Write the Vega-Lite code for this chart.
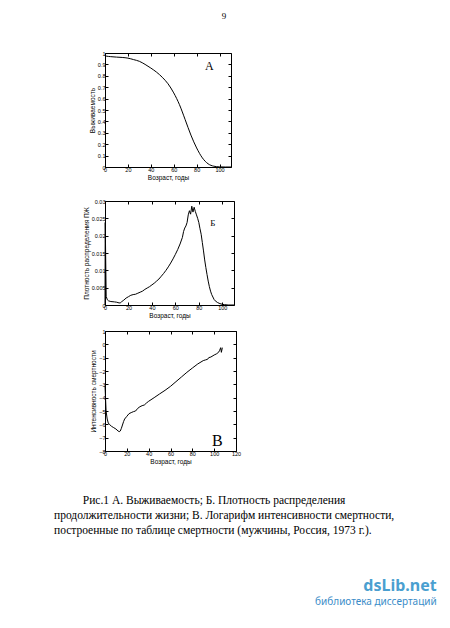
{
  "$schema": "https://vega.github.io/schema/vega-lite/v6.json",
  "background": "white",
  "padding": {"left": 53, "top": 11, "right": 5, "bottom": 5},
  "title": {"text": "dsLib.net", "subtitle": "библиотека диссертаций", "orient": "bottom", "anchor": "end", "color": "#4a9fd0", "subtitleColor": "#3a8cc8", "font": "Noto Sans", "fontSize": 16, "fontWeight": "bold", "subtitleFont": "Noto Sans", "subtitleFontSize": 10, "subtitlePadding": 3, "offset": 41, "dx": 42},
  "datasets": {
    "survival": [
      {"age": 0, "l": 0.982}, {"age": 1, "l": 0.973}, {"age": 5, "l": 0.968}, {"age": 10, "l": 0.964}, {"age": 15, "l": 0.961}, {"age": 20, "l": 0.955}, {"age": 25, "l": 0.942}, {"age": 30, "l": 0.927}, {"age": 35, "l": 0.9}, {"age": 40, "l": 0.868}, {"age": 45, "l": 0.832}, {"age": 50, "l": 0.787}, {"age": 55, "l": 0.73}, {"age": 60, "l": 0.65}, {"age": 65, "l": 0.547}, {"age": 70, "l": 0.415}, {"age": 75, "l": 0.28}, {"age": 80, "l": 0.167}, {"age": 85, "l": 0.08}, {"age": 90, "l": 0.028}, {"age": 95, "l": 0.007}, {"age": 100, "l": 0.001}, {"age": 105, "l": 0}, {"age": 110, "l": 0}
    ],
    "density": [
      {"age": 0, "f": 0}, {"age": 0.2, "f": 0.0238}, {"age": 1, "f": 0.0025}, {"age": 2, "f": 0.0015}, {"age": 3, "f": 0.0012}, {"age": 5, "f": 0.001}, {"age": 8, "f": 0.0009}, {"age": 10, "f": 0.0008}, {"age": 12, "f": 0.0006}, {"age": 13, "f": 0.0006}, {"age": 14, "f": 0.0009}, {"age": 16, "f": 0.0014}, {"age": 18, "f": 0.002}, {"age": 20, "f": 0.0024}, {"age": 22, "f": 0.0028}, {"age": 24, "f": 0.003}, {"age": 26, "f": 0.0031}, {"age": 28, "f": 0.0034}, {"age": 30, "f": 0.0037}, {"age": 32, "f": 0.004}, {"age": 34, "f": 0.0045}, {"age": 36, "f": 0.0049}, {"age": 38, "f": 0.0053}, {"age": 40, "f": 0.0058}, {"age": 42, "f": 0.0063}, {"age": 44, "f": 0.0069}, {"age": 46, "f": 0.0075}, {"age": 48, "f": 0.0083}, {"age": 50, "f": 0.0091}, {"age": 52, "f": 0.01}, {"age": 54, "f": 0.011}, {"age": 56, "f": 0.0121}, {"age": 58, "f": 0.0133}, {"age": 60, "f": 0.0146}, {"age": 62, "f": 0.016}, {"age": 64, "f": 0.0176}, {"age": 66, "f": 0.0195}, {"age": 67, "f": 0.0212}, {"age": 68, "f": 0.0222}, {"age": 69, "f": 0.0228}, {"age": 70, "f": 0.0238}, {"age": 71, "f": 0.026}, {"age": 72, "f": 0.0272}, {"age": 73, "f": 0.0262}, {"age": 74, "f": 0.0285}, {"age": 75, "f": 0.0268}, {"age": 76, "f": 0.0282}, {"age": 77, "f": 0.027}, {"age": 78, "f": 0.026}, {"age": 79, "f": 0.025}, {"age": 80, "f": 0.0238}, {"age": 81, "f": 0.022}, {"age": 82, "f": 0.0204}, {"age": 83, "f": 0.018}, {"age": 84, "f": 0.0156}, {"age": 85, "f": 0.013}, {"age": 86, "f": 0.0108}, {"age": 87, "f": 0.0088}, {"age": 88, "f": 0.0069}, {"age": 89, "f": 0.0053}, {"age": 90, "f": 0.004}, {"age": 91, "f": 0.003}, {"age": 92, "f": 0.0023}, {"age": 93, "f": 0.0016}, {"age": 94, "f": 0.0012}, {"age": 96, "f": 0.0007}, {"age": 98, "f": 0.0004}, {"age": 100, "f": 0.0002}, {"age": 102, "f": 0.0001}, {"age": 105, "f": 0}, {"age": 110, "f": 0}
    ],
    "hazard": [
      {"age": 0, "h": -3.1}, {"age": 1, "h": -5.0}, {"age": 2, "h": -5.6}, {"age": 3, "h": -5.9}, {"age": 4, "h": -6.0}, {"age": 6, "h": -6.15}, {"age": 8, "h": -6.25}, {"age": 10, "h": -6.35}, {"age": 12, "h": -6.5}, {"age": 13, "h": -6.55}, {"age": 14, "h": -6.5}, {"age": 15, "h": -6.3}, {"age": 16, "h": -6.05}, {"age": 17, "h": -5.8}, {"age": 18, "h": -5.6}, {"age": 20, "h": -5.4}, {"age": 22, "h": -5.2}, {"age": 24, "h": -5.12}, {"age": 26, "h": -5.05}, {"age": 28, "h": -5.0}, {"age": 30, "h": -4.8}, {"age": 32, "h": -4.68}, {"age": 34, "h": -4.6}, {"age": 36, "h": -4.55}, {"age": 38, "h": -4.4}, {"age": 40, "h": -4.27}, {"age": 45, "h": -4.0}, {"age": 50, "h": -3.72}, {"age": 55, "h": -3.45}, {"age": 60, "h": -3.15}, {"age": 65, "h": -2.8}, {"age": 70, "h": -2.45}, {"age": 75, "h": -2.1}, {"age": 80, "h": -1.78}, {"age": 85, "h": -1.47}, {"age": 90, "h": -1.22}, {"age": 92, "h": -1.17}, {"age": 94, "h": -1.12}, {"age": 95, "h": -1.0}, {"age": 97, "h": -0.95}, {"age": 100, "h": -0.8}, {"age": 102, "h": -0.72}, {"age": 104, "h": -0.6}, {"age": 105, "h": -0.45}, {"age": 106, "h": -0.25}, {"age": 106.6, "h": -0.6}, {"age": 107.5, "h": -0.25}
    ]
  },
  "config": {
    "view": {"stroke": "black", "strokeWidth": 1},
    "axis": {"domain": false, "grid": false, "tickSize": -3, "tickColor": "black", "labelFont": "Liberation Sans", "labelFontSize": 5.5, "labelColor": "black", "labelPadding": 2, "labelOverlap": false, "labelFlush": false, "labelBound": false, "titleFont": "Liberation Sans", "titleFontSize": 6.5, "titleFontWeight": "normal", "titleColor": "black", "titlePadding": 2},
    "axisBottom": {"labelPadding": 3},
    "axisLeft": {"labelPadding": 3}
  },
  "spacing": 8,
  "vconcat": [
    {
      "spacing": 16,
      "vconcat": [
        {
          "width": 126, "height": 114,
          "title": {"text": "9", "orient": "top", "anchor": "middle", "frame": "group", "dx": 56, "offset": 30, "font": "Liberation Serif", "fontSize": 9, "fontWeight": "normal", "color": "black"},
          "resolve": {"axis": {"x": "independent", "y": "independent"}},
          "layer": [
            {
              "data": {"name": "survival"},
              "mark": {"type": "line", "color": "black", "strokeWidth": 1, "interpolate": "monotone"},
              "encoding": {
                "x": {"field": "age", "type": "quantitative", "scale": {"domain": [0, 110], "nice": false}, "axis": {"orient": "bottom", "values": [0, 20, 40, 60, 80, 100], "title": "Возраст, годы", "labelOverlap": false}},
                "y": {"field": "l", "type": "quantitative", "scale": {"domain": [0, 1], "nice": false}, "axis": {"orient": "left", "values": [0, 0.1, 0.2, 0.3, 0.4, 0.5, 0.6, 0.7, 0.8, 0.9, 1], "format": "~g", "title": "Выживаемость", "labelOverlap": false}}
              }
            },
            {
              "data": {"name": "survival"},
              "mark": {"type": "point", "opacity": 0},
              "encoding": {
                "x": {"field": "age", "type": "quantitative", "axis": {"orient": "top", "values": [0, 20, 40, 60, 80, 100], "labels": false, "title": null}},
                "y": {"field": "l", "type": "quantitative", "axis": {"orient": "right", "values": [0, 0.1, 0.2, 0.3, 0.4, 0.5, 0.6, 0.7, 0.8, 0.9, 1], "labels": false, "title": null}}
              }
            },
            {
              "data": {"values": [{"label": "А", "age": 91, "v": 0.885}]},
              "mark": {"type": "text", "font": "Liberation Serif", "fontSize": 12, "color": "black"},
              "encoding": {"x": {"field": "age", "type": "quantitative", "axis": null}, "y": {"field": "v", "type": "quantitative", "axis": null}, "text": {"field": "label"}}
            }
          ]
        },
        {
          "width": 129, "height": 104,
          "resolve": {"axis": {"x": "independent", "y": "independent"}},
          "layer": [
            {
              "data": {"name": "density"},
              "mark": {"type": "line", "color": "black", "strokeWidth": 1},
              "encoding": {
                "x": {"field": "age", "type": "quantitative", "scale": {"domain": [0, 110], "nice": false}, "axis": {"orient": "bottom", "values": [0, 20, 40, 60, 80, 100], "title": "Возраст, годы", "labelOverlap": false}},
                "y": {"field": "f", "type": "quantitative", "scale": {"domain": [0, 0.03], "nice": false}, "axis": {"orient": "left", "values": [0, 0.005, 0.01, 0.015, 0.02, 0.025, 0.03], "format": "~g", "title": "Плотность распределения ПЖ", "labelOverlap": false}}
              }
            },
            {
              "data": {"name": "density"},
              "mark": {"type": "point", "opacity": 0},
              "encoding": {
                "x": {"field": "age", "type": "quantitative", "axis": {"orient": "top", "values": [0, 20, 40, 60, 80, 100], "labels": false, "title": null}},
                "y": {"field": "f", "type": "quantitative", "axis": {"orient": "right", "values": [0, 0.005, 0.01, 0.015, 0.02, 0.025, 0.03], "labels": false, "title": null}}
              }
            },
            {
              "data": {"values": [{"label": "Б", "age": 92, "v": 0.0237}]},
              "mark": {"type": "text", "font": "Liberation Serif", "fontSize": 9, "color": "black"},
              "encoding": {"x": {"field": "age", "type": "quantitative", "axis": null}, "y": {"field": "v", "type": "quantitative", "axis": null}, "text": {"field": "label"}}
            }
          ]
        }
      ]
    },
    {
      "width": 131, "height": 120,
      "title": {"text": ["\u200b\u00a0\u00a0\u00a0\u00a0\u00a0\u00a0\u00a0\u00a0\u00a0\u00a0Рис.1 А. Выживаемость; Б. Плотность распределения", "продолжительности жизни; В. Логарифм интенсивности смертности,", "построенные по таблице смертности (мужчины, Россия, 1973 г.)."], "orient": "bottom", "anchor": "start", "frame": "group", "dx": -51, "offset": 30, "font": "Liberation Serif", "fontSize": 11.5, "fontWeight": "normal", "lineHeight": 15, "color": "black"},
      "resolve": {"axis": {"x": "independent", "y": "independent"}},
      "layer": [
        {
          "data": {"name": "hazard"},
          "mark": {"type": "line", "color": "black", "strokeWidth": 1},
          "encoding": {
            "x": {"field": "age", "type": "quantitative", "scale": {"domain": [0, 120], "nice": false}, "axis": {"orient": "bottom", "values": [0, 20, 40, 60, 80, 100, 120], "title": "Возраст, годы", "labelOverlap": false}},
            "y": {"field": "h", "type": "quantitative", "scale": {"domain": [-8, 1], "nice": false}, "axis": {"orient": "left", "values": [-8, -7, -6, -5, -4, -3, -2, -1, 0, 1], "title": "Интенсивность смертности", "labelOverlap": false}}
          }
        },
        {
          "data": {"name": "hazard"},
          "mark": {"type": "point", "opacity": 0},
          "encoding": {
            "x": {"field": "age", "type": "quantitative", "axis": {"orient": "top", "values": [0, 20, 40, 60, 80, 100, 120], "labels": false, "title": null}},
            "y": {"field": "h", "type": "quantitative", "axis": {"orient": "right", "values": [-8, -7, -6, -5, -4, -3, -2, -1, 0, 1], "labels": false, "title": null}}
          }
        },
        {
          "data": {"values": [{"label": "В", "age": 103, "v": -7.25}]},
          "mark": {"type": "text", "font": "Liberation Serif", "fontSize": 16, "color": "black"},
          "encoding": {"x": {"field": "age", "type": "quantitative", "axis": null}, "y": {"field": "v", "type": "quantitative", "axis": null}, "text": {"field": "label"}}
        }
      ]
    }
  ]
}
